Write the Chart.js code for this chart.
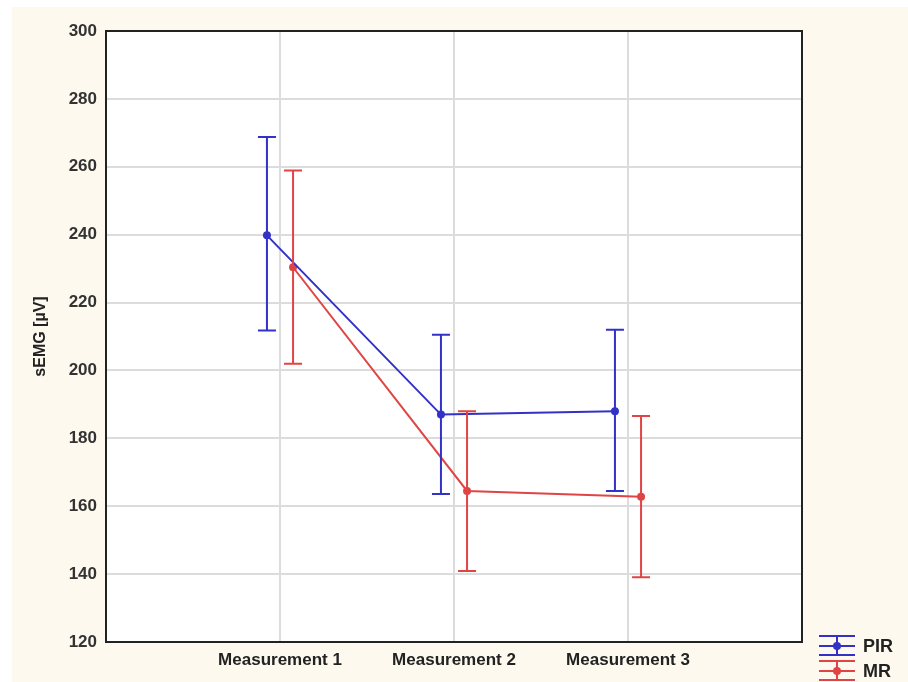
<!DOCTYPE html>
<html>
<head>
<meta charset="utf-8">
<script src="https://cdn.jsdelivr.net/npm/chart.js@4.4.1/dist/chart.umd.min.js"></script>
<style>
  html, body { margin: 0; padding: 0; background: #ffffff; }
  #wrap { width: 908px; height: 682px; position: relative; }
</style>
</head>
<body>
<div id="wrap"><canvas id="chart" width="908" height="682"></canvas></div>
<script>
const categories = ["Measurement 1", "Measurement 2", "Measurement 3"];
const yTicks = [120, 140, 160, 180, 200, 220, 240, 260, 280, 300];

const pirMean = [239.8, 187.0, 188.0];
const pirUpper = [268.8, 210.5, 212.0];
const pirLower = [211.8, 163.6, 164.5];

const mrMean = [230.4, 164.5, 162.8];
const mrUpper = [258.9, 188.0, 186.6];
const mrLower = [202.0, 140.9, 139.1];

const pirColor = "#3232c8";
const mrColor = "#e04444";
const creamColor = "#fdf9ee";
const gridColor = "#dcdcdc";
const fontFamily = "'Liberation Sans', Arial, sans-serif";

// horizontal nudge so the two groups do not overlap
const pirShift = -0.075;
const mrShift = 0.075;

function toPoints(values, shift) {
  return values.map((v, i) => ({ x: i + 1 + shift, y: v }));
}

const pageBackground = {
  id: "pageBackground",
  beforeDraw(chart) {
    const { ctx, chartArea } = chart;
    ctx.save();
    ctx.fillStyle = "#ffffff";
    ctx.fillRect(0, 0, chart.width, chart.height);
    ctx.fillStyle = creamColor;
    ctx.fillRect(12, 7, chart.width - 12, chart.height - 7);
    ctx.fillStyle = "#ffffff";
    ctx.fillRect(chartArea.left, chartArea.top, chartArea.right - chartArea.left, chartArea.bottom - chartArea.top);
    ctx.restore();
  },
};

const errorBars = {
  id: "errorBars",
  afterDatasetsDraw(chart) {
    const { ctx } = chart;
    const xs = chart.scales.x;
    const ys = chart.scales.y;
    const sets = [
      { upper: pirUpper, lower: pirLower, shift: pirShift, color: pirColor },
      { upper: mrUpper, lower: mrLower, shift: mrShift, color: mrColor },
    ];
    ctx.save();
    ctx.lineWidth = 2;
    sets.forEach((s) => {
      ctx.strokeStyle = s.color;
      s.upper.forEach((hi, i) => {
        const x = xs.getPixelForValue(i + 1 + s.shift);
        const yHi = ys.getPixelForValue(hi);
        const yLo = ys.getPixelForValue(s.lower[i]);
        ctx.beginPath();
        ctx.moveTo(x, yHi);
        ctx.lineTo(x, yLo);
        ctx.moveTo(x - 9, yHi);
        ctx.lineTo(x + 9, yHi);
        ctx.moveTo(x - 9, yLo);
        ctx.lineTo(x + 9, yLo);
        ctx.stroke();
      });
    });
    ctx.restore();
  },
};

const frameAndLegend = {
  id: "frameAndLegend",
  afterDraw(chart) {
    const { ctx, chartArea } = chart;
    ctx.save();
    ctx.strokeStyle = "#222222";
    ctx.lineWidth = 2;
    ctx.strokeRect(chartArea.left, chartArea.top, chartArea.right - chartArea.left, chartArea.bottom - chartArea.top);

    const items = [
      { label: "PIR", color: pirColor, y: 646 },
      { label: "MR", color: mrColor, y: 671 },
    ];
    items.forEach((item) => {
      ctx.strokeStyle = item.color;
      ctx.lineWidth = 2;
      ctx.beginPath();
      [-10, 0, 9].forEach((dy) => {
        ctx.moveTo(819, item.y + dy);
        ctx.lineTo(855, item.y + dy);
      });
      ctx.moveTo(837, item.y - 10);
      ctx.lineTo(837, item.y + 9);
      ctx.stroke();
      ctx.fillStyle = item.color;
      ctx.beginPath();
      ctx.arc(837, item.y, 4, 0, Math.PI * 2);
      ctx.fill();
      ctx.fillStyle = "#222222";
      ctx.font = "bold 18px " + fontFamily;
      ctx.textBaseline = "middle";
      ctx.fillText(item.label, 863, item.y + 1);
    });
    ctx.restore();
  },
};

function init() {
  const ctx = document.getElementById("chart").getContext("2d");
  new Chart(ctx, {
    type: "line",
    data: {
      datasets: [
        {
          label: "PIR",
          data: toPoints(pirMean, pirShift),
          borderColor: pirColor,
          backgroundColor: pirColor,
          borderWidth: 2,
          pointRadius: 4,
          pointBorderWidth: 0,
          tension: 0,
        },
        {
          label: "MR",
          data: toPoints(mrMean, mrShift),
          borderColor: mrColor,
          backgroundColor: mrColor,
          borderWidth: 2,
          pointRadius: 4,
          pointBorderWidth: 0,
          tension: 0,
        },
      ],
    },
    options: {
      responsive: false,
      animation: false,
      events: [],
      layout: { padding: { left: 0, top: 31, right: 106, bottom: 0 } },
      scales: {
        x: {
          type: "linear",
          min: 0,
          max: 4,
          afterBuildTicks: (scale) => {
            scale.ticks = [0, 1, 2, 3, 4].map((v) => ({ value: v }));
          },
          afterFit: (scale) => {
            scale.height = 40;
          },
          ticks: {
            callback: (v) => categories[v - 1] || "",
            color: "#222222",
            font: { family: fontFamily, size: 17, weight: "bold" },
            padding: 8,
            maxRotation: 0,
            autoSkip: false,
          },
          grid: { color: gridColor, lineWidth: 2, drawTicks: false },
          border: { color: "#222222", width: 2 },
        },
        y: {
          min: 120,
          max: 300,
          afterBuildTicks: (scale) => {
            scale.ticks = yTicks.map((v) => ({ value: v }));
          },
          afterFit: (scale) => {
            scale.width = 106;
          },
          ticks: {
            color: "#333333",
            font: { family: fontFamily, size: 17, weight: "bold" },
            padding: 9,
          },
          grid: { color: gridColor, lineWidth: 2, drawTicks: false },
          border: { color: "#222222", width: 2 },
          title: {
            display: true,
            text: "sEMG [µV]",
            color: "#222222",
            font: { family: fontFamily, size: 16, weight: "bold" },
            padding: { top: 31 },
          },
        },
      },
      plugins: {
        legend: { display: false },
        tooltip: { enabled: false },
      },
    },
    plugins: [pageBackground, errorBars, frameAndLegend],
  });
}

window.addEventListener("DOMContentLoaded", init);
</script>
</body>
</html>
